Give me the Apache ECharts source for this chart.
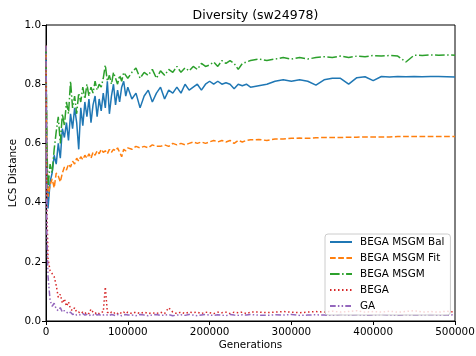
<!DOCTYPE html>
<html>
<head>
<meta charset="utf-8">
<script src="https://cdn.jsdelivr.net/npm/echarts@6/dist/echarts.min.js"></script>
<style>html,body{margin:0;padding:0;background:#fff}#c{width:476px;height:356px}</style>
</head>
<body>
<div id="c"></div>
<script>
var gens = [0, 1000, 2500, 5000, 7500, 10000, 12500, 15000, 17500, 20000, 22500, 25000, 27500, 30000, 32500, 35000, 37500, 40000, 42500, 45000, 47500, 50000, 52500, 55000, 57500, 60000, 62500, 65000, 67500, 70000, 72500, 75000, 77500, 80000, 82500, 85000, 87500, 90000, 92500, 95000, 97500, 100000,
  105000, 110000, 115000, 120000, 125000, 130000, 135000, 140000, 145000, 150000, 155000, 160000, 165000, 170000, 175000, 180000, 185000, 190000, 195000, 200000, 205000, 210000, 215000, 220000, 225000, 230000, 235000, 240000, 245000, 250000,
  260000, 270000, 280000, 290000, 300000, 310000, 320000, 330000, 340000, 350000, 360000, 370000, 380000, 390000, 400000, 410000, 420000, 430000, 440000, 450000, 460000, 470000, 480000, 490000, 500000];

var balValues = [0.93, 0.55, 0.38, 0.47, 0.50, 0.56, 0.53, 0.60, 0.55, 0.65, 0.62, 0.67, 0.61, 0.70, 0.65, 0.72, 0.67, 0.58, 0.72, 0.66, 0.74, 0.69, 0.75, 0.67, 0.73, 0.76, 0.69, 0.75, 0.71, 0.77, 0.72, 0.81, 0.70, 0.76, 0.80, 0.73, 0.78, 0.74, 0.79, 0.81, 0.76, 0.79,
  0.75, 0.77, 0.72, 0.76, 0.78, 0.74, 0.77, 0.79, 0.75, 0.78, 0.77, 0.79, 0.77, 0.80, 0.78, 0.79, 0.80, 0.78, 0.80, 0.81, 0.80, 0.81, 0.80, 0.805, 0.80, 0.785, 0.80, 0.795, 0.80, 0.79,
  0.795, 0.80, 0.81, 0.815, 0.81, 0.815, 0.81, 0.797, 0.815, 0.82, 0.82, 0.80, 0.822, 0.825, 0.812, 0.826, 0.824, 0.826, 0.825, 0.826, 0.825, 0.826, 0.826, 0.825, 0.824];

var fitValues = [0.93, 0.50, 0.42, 0.46, 0.48, 0.45, 0.50, 0.49, 0.47, 0.50, 0.52, 0.51, 0.53, 0.52, 0.54, 0.53, 0.55, 0.54, 0.555, 0.545, 0.56, 0.55, 0.565, 0.55, 0.57, 0.56, 0.575, 0.565, 0.58, 0.57, 0.575, 0.565, 0.58, 0.57, 0.58, 0.575, 0.585, 0.57, 0.555, 0.58, 0.575, 0.585,
  0.58, 0.59, 0.585, 0.59, 0.585, 0.595, 0.59, 0.59, 0.595, 0.59, 0.60, 0.595, 0.60, 0.595, 0.60, 0.605, 0.60, 0.605, 0.60, 0.605, 0.61, 0.605, 0.61, 0.605, 0.61, 0.60, 0.61, 0.605, 0.61, 0.612,
  0.613, 0.61, 0.615, 0.615, 0.617, 0.618, 0.617, 0.619, 0.62, 0.62, 0.62, 0.621, 0.621, 0.622, 0.622, 0.622, 0.622, 0.623, 0.623, 0.623, 0.623, 0.623, 0.623, 0.623, 0.623];

var msgmValues = [0.93, 0.60, 0.45, 0.53, 0.50, 0.58, 0.64, 0.69, 0.60, 0.70, 0.66, 0.74, 0.70, 0.81, 0.72, 0.76, 0.70, 0.77, 0.74, 0.79, 0.75, 0.80, 0.76, 0.79, 0.77, 0.81, 0.78, 0.80, 0.79, 0.82, 0.865, 0.81, 0.83, 0.80, 0.84, 0.82, 0.80, 0.83, 0.81, 0.84, 0.83, 0.82,
  0.84, 0.855, 0.82, 0.84, 0.83, 0.85, 0.82, 0.845, 0.83, 0.85, 0.84, 0.86, 0.84, 0.855, 0.845, 0.86, 0.85, 0.87, 0.86, 0.865, 0.875, 0.86, 0.88, 0.87, 0.88, 0.87, 0.85, 0.87, 0.875, 0.88,
  0.885, 0.88, 0.885, 0.89, 0.885, 0.89, 0.885, 0.89, 0.893, 0.89, 0.895, 0.89, 0.895, 0.893, 0.897, 0.895, 0.897, 0.895, 0.875, 0.898, 0.897, 0.899, 0.898, 0.899, 0.898];

var begaValues = [0.93, 0.40, 0.21, 0.17, 0.16, 0.15, 0.12, 0.08, 0.09, 0.06, 0.075, 0.05, 0.065, 0.04, 0.035, 0.045, 0.03, 0.03, 0.025, 0.03, 0.025, 0.03, 0.025, 0.04, 0.03, 0.025, 0.03, 0.025, 0.03, 0.03, 0.115, 0.03, 0.025, 0.03, 0.025, 0.03, 0.025, 0.03, 0.025, 0.03, 0.025, 0.03,
  0.025, 0.03, 0.025, 0.03, 0.025, 0.028, 0.025, 0.03, 0.025, 0.045, 0.03, 0.025, 0.03, 0.025, 0.03, 0.028, 0.03, 0.025, 0.03, 0.028, 0.025, 0.03, 0.028, 0.03, 0.025, 0.03, 0.028, 0.03, 0.025, 0.03,
  0.03, 0.028, 0.03, 0.032, 0.03, 0.028, 0.03, 0.032, 0.03, 0.033, 0.03, 0.032, 0.035, 0.03, 0.032, 0.03, 0.033, 0.03, 0.032, 0.035, 0.03, 0.032, 0.03, 0.033, 0.03];

var gaValues = [0.93, 0.30, 0.15, 0.07, 0.05, 0.06, 0.04, 0.035, 0.045, 0.03, 0.035, 0.03, 0.025, 0.03, 0.022, 0.025, 0.02, 0.022, 0.02, 0.025, 0.02, 0.022, 0.018, 0.022, 0.02, 0.025, 0.02, 0.022, 0.018, 0.02, 0.022, 0.02, 0.018, 0.022, 0.02, 0.018, 0.022, 0.02, 0.018, 0.02, 0.022, 0.02,
  0.02, 0.018, 0.022, 0.02, 0.018, 0.02, 0.022, 0.019, 0.02, 0.022, 0.018, 0.02, 0.021, 0.019, 0.022, 0.02, 0.018, 0.02, 0.022, 0.02, 0.019, 0.021, 0.02, 0.018, 0.022, 0.02, 0.019, 0.021, 0.02, 0.022,
  0.02, 0.019, 0.021, 0.02, 0.022, 0.019, 0.02, 0.021, 0.02, 0.019, 0.022, 0.02, 0.021, 0.019, 0.02, 0.022, 0.02, 0.019, 0.021, 0.02, 0.02, 0.022, 0.019, 0.02, 0.021];

var seriesNames = ['BEGA MSGM Bal', 'BEGA MSGM Fit', 'BEGA MSGM', 'BEGA', 'GA'];
var xTicks = [0, 100000, 200000, 300000, 400000, 500000];
var yTicks = [0.0, 0.2, 0.4, 0.6, 0.8, 1.0];

var FONT = 'DejaVu Sans';
var colors = ['#1f77b4', '#ff7f0e', '#2ca02c', '#d62728', '#9467bd'];
var dashes = ['solid', [5.7, 2.5], [9.6, 2.5, 1.5, 2.5], [1.5, 2.5], [5.7, 2.2, 1.5, 2.2, 1.5, 2.2]];
var allValues = [balValues, fitValues, msgmValues, begaValues, gaValues];

function pairs(vals) { return gens.map(function (g, i) { return [g, vals[i]]; }); }

var chart = echarts.init(document.getElementById('c'), null, { renderer: 'canvas' });
chart.setOption({
  animation: false,
  backgroundColor: '#fff',
  title: {
    text: 'Diversity (sw24978)',
    left: 250.5, textAlign: 'center', top: 4,
    textStyle: { fontFamily: FONT, fontSize: 12.5, fontWeight: 'normal', color: '#000' }
  },
  grid: { left: 46, right: 21, top: 25, bottom: 35, containLabel: false, outerBoundsMode: 'none', show: true, borderColor: '#000', borderWidth: 1, backgroundColor: 'transparent' },
  legend: {
    orient: 'vertical', left: 325, top: 234,
    data: seriesNames,
    itemWidth: 22, itemHeight: 10, itemGap: 4,
    padding: [2, 6, 3, 4],
    backgroundColor: 'rgba(255,255,255,0.8)',
    borderColor: '#cccccc', borderWidth: 1, borderRadius: 3,
    itemStyle: { opacity: 0 },
    textStyle: { fontFamily: FONT, fontSize: 10.4, color: '#000', lineHeight: 12, padding: [0, 0, 0, 3] }
  },
  xAxis: {
    type: 'value', min: xTicks[0], max: xTicks[xTicks.length - 1], interval: xTicks[1] - xTicks[0],
    name: 'Generations', nameLocation: 'middle', nameGap: 19, nameMoveOverlap: false,
    nameTextStyle: { fontFamily: FONT, fontSize: 10.4, color: '#000' },
    axisLine: { show: true, lineStyle: { color: '#000', width: 1 } },
    axisTick: { show: true, length: 4, lineStyle: { color: '#000', width: 1 } },
    axisLabel: { fontFamily: FONT, fontSize: 10.4, color: '#000', margin: 6, formatter: function (v) { return String(v); } },
    splitLine: { show: false }
  },
  yAxis: {
    type: 'value', min: yTicks[0], max: yTicks[yTicks.length - 1], interval: 0.2,
    name: 'LCS Distance', nameLocation: 'middle', nameGap: 28, nameRotate: 90, nameMoveOverlap: false,
    nameTextStyle: { fontFamily: FONT, fontSize: 10.4, color: '#000' },
    axisLine: { show: true, lineStyle: { color: '#000', width: 1 } },
    axisTick: { show: true, length: 4, lineStyle: { color: '#000', width: 1 } },
    axisLabel: { fontFamily: FONT, fontSize: 10.4, color: '#000', margin: 5, formatter: function (v) { return v.toFixed(1); } },
    splitLine: { show: false }
  },
  series: seriesNames.map(function (n, i) {
    return {
      name: n, type: 'line', data: pairs(allValues[i]),
      symbol: 'none', showSymbol: false, clip: true,
      itemStyle: { color: colors[i] },
      lineStyle: { color: colors[i], width: 1.5, type: dashes[i] },
      emphasis: { disabled: true }
    };
  })
});
</script>
</body>
</html>
